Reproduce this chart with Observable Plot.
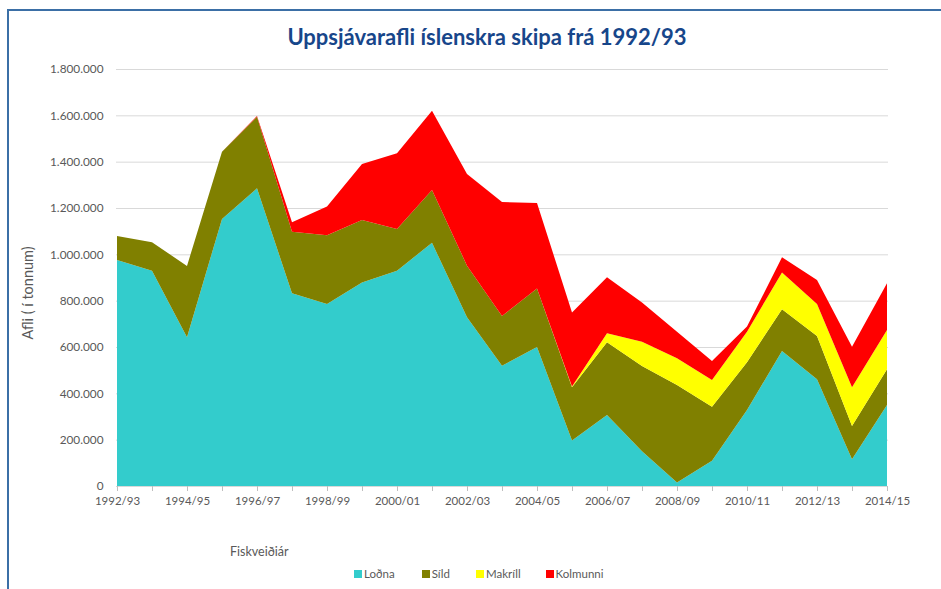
<!DOCTYPE html>
<html>
<head>
<meta charset="utf-8">
<script src="https://cdn.jsdelivr.net/npm/d3@7"></script>
<script src="https://cdn.jsdelivr.net/npm/@observablehq/plot@0.6"></script>
<style>
  html, body { margin: 0; padding: 0; background: #fff; }
  #wrap { position: relative; width: 941px; height: 589px; overflow: hidden; font-family: Lato, "Open Sans", sans-serif; }
  #frame { position: absolute; left: 7px; top: 9px; right: -5px; bottom: -5px; border-left: 2px solid #3B6FA6; border-top: 2px solid #3B6FA6; }
  #title { position: absolute; left: 0; width: 974px; top: 23px; text-align: center; font-size: 22px; font-weight: bold; color: #17468A; }
  #chart { position: absolute; left: 0; top: 55px; }
  #ytitle { position: absolute; left: 27px; top: 293px; transform: translate(-50%, -50%) rotate(-90deg); font-size: 14.5px; color: #595959; white-space: nowrap; }
  #xtitle { position: absolute; left: 230px; top: 544px; font-size: 12.5px; color: #595959; }
  #legend { position: absolute; left: 354px; top: 567px; font-size: 11.5px; color: #595959; display: flex; align-items: center; }
  #legend .item { display: flex; align-items: center; }
  #legend .sw { width: 8px; height: 8px; margin-right: 2px; }
</style>
</head>
<body>
<div id="wrap">
  <div id="frame"></div>
  <div id="title">Uppsjávarafli íslenskra skipa frá 1992/93</div>
  <div id="chart"></div>
  <div id="ytitle">Afli ( í tonnum)</div>
  <div id="xtitle">Fiskveiðiár</div>
  <div id="legend"></div>
</div>
<script>
const seasons = ["1992/93","1993/94","1994/95","1995/96","1996/97","1997/98","1998/99","1999/00","2000/01","2001/02","2002/03","2003/04","2004/05","2005/06","2006/07","2007/08","2008/09","2009/10","2010/11","2011/12","2012/13","2013/14","2014/15"];
const species = ["Loðna", "Síld", "Makríll", "Kolmunni"];
const colors = ["#33CCCC", "#808000", "#FFFF00", "#FF0000"];
// catch in thousand tonnes
const lodna    = [976, 929, 642, 1153, 1285, 832, 786, 878, 929, 1050, 728, 519, 600, 196, 306, 150, 15, 109, 328, 583, 461, 115, 350];
const sild     = [103, 123, 308, 290, 309, 265, 296, 270, 180, 228, 223, 215, 253, 230, 314, 368, 421, 233, 206, 180, 187, 144, 154];
const makrill  = [0, 0, 0, 0, 0, 0, 0, 0, 0, 0, 0, 0, 0, 4, 39, 105, 115, 116, 132, 159, 138, 167, 169];
const kolmunni = [0, 0, 0, 0, 3, 41, 124, 242, 327, 342, 396, 492, 369, 319, 242, 169, 115, 82, 22, 65, 103, 175, 202];
const yTicks = [0, 200000, 400000, 600000, 800000, 1000000, 1200000, 1400000, 1600000, 1800000];

const series = [lodna, sild, makrill, kolmunni];
const data = [];
seasons.forEach((s, i) => {
  species.forEach((sp, k) => data.push({season: s, species: sp, value: series[k][i] * 1000}));
});

const fmt = d3.formatLocale({decimal: ",", thousands: ".", grouping: [3], currency: ["", ""]}).format(",");

const chart = Plot.plot({
  width: 941,
  height: 456,
  marginLeft: 116,
  marginRight: 53,
  marginTop: 14,
  marginBottom: 25,
  style: {fontFamily: "Lato, 'Open Sans', sans-serif", fontSize: "11.5px", color: "#595959", background: "transparent", overflow: "visible"},
  x: {type: "point", domain: seasons, padding: 0},
  y: {domain: [0, 1800000]},
  color: {domain: species, range: colors},
  marks: [
    Plot.gridY(yTicks, {stroke: "#D9D9D9", strokeOpacity: 1, strokeWidth: 1}),
    Plot.areaY(data, {x: "season", y: "value", fill: "species", order: species, curve: "linear"}),
    Plot.ruleY([0], {stroke: "#D9D9D9", strokeWidth: 1}),
    Plot.axisY({ticks: yTicks, tickFormat: fmt, tickSize: 0, tickPadding: 13, label: null, fontSize: 11.8}),
    Plot.axisX({ticks: seasons, tickFormat: d => seasons.indexOf(d) % 2 === 0 ? d : "", tickSize: 5, tickPadding: 5, stroke: "#BFBFBF", label: null})
  ]
});
document.getElementById("chart").appendChild(chart);

const legend = document.getElementById("legend");
const gaps = [27, 26, 25, 0];
species.forEach((sp, k) => {
  const it = document.createElement("div");
  it.className = "item";
  it.style.marginRight = gaps[k] + "px";
  const sw = document.createElement("div");
  sw.className = "sw";
  sw.style.background = colors[k];
  const tx = document.createElement("span");
  tx.textContent = sp;
  it.appendChild(sw); it.appendChild(tx);
  legend.appendChild(it);
});
</script>
</body>
</html>
